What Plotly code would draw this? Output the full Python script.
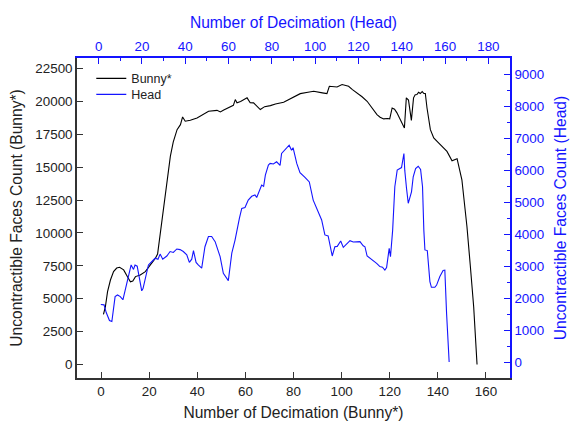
import plotly.graph_objects as go

# Bunny* : bottom x axis / left y axis
bunny_x = [1, 1.8, 2.7, 3.9, 5.2, 6.5, 7.7, 9.4, 10.8, 12.2, 13.2, 14.3, 16.3, 18.4, 20.5, 22.6, 23.5,
           24.2, 24.9, 25.8, 26.7, 28, 28.8, 30, 31.6, 33, 33.9, 35, 37.1, 39.9, 42, 44.7, 48.2, 49.6,
           51, 53, 55, 55.8, 56.5, 58, 59.3, 60.7, 62, 63.4, 66.2, 68, 70.4, 72.5, 75.9, 79, 82.8, 86,
           88.4, 92, 93.9, 94.9, 98.1, 100.2, 102.9, 104.5, 106.4, 108.5, 110.6, 112.5, 114.7, 116,
           117.5, 119, 120, 121, 122, 123, 124.5, 126.1, 126.9, 127.8, 129, 129.9, 130.6, 131.3, 132,
           132.7, 133.5, 134.2, 134.8, 135.5, 136.9, 138.3, 140, 142, 143.8, 145.9, 147, 148, 150,
           151, 152.1, 153.5, 154.9, 156.3]
bunny_y = [3800, 4390, 5530, 6420, 7060, 7330, 7390, 7190, 6730, 6290, 6350, 6680, 6800, 7060, 7570,
           8070, 8400, 9400, 10300, 11800, 13030, 14800, 15820, 16900, 17850, 18230, 18820, 18490,
           18560, 18740, 18950, 19250, 19320, 19200, 19350, 19500, 19700, 20140, 19900, 20000, 20140,
           20270, 19900, 19890, 19380, 19600, 19680, 19800, 19930, 20200, 20590, 20700, 20770, 20650,
           20590, 21150, 21100, 21280, 21150, 20900, 20650, 20350, 20010, 19550, 19000, 18800, 18670,
           18700, 18670, 19500, 19400, 19130, 18600, 17980, 20270, 20100, 18560, 20270, 20500, 20520,
           20700, 20600, 20750, 20600, 20600, 19500, 17850, 17220, 16900, 16550, 16200, 15490, 15600,
           15640, 14040, 12500, 10490, 7500, 4390, 0]

# Head : top x axis / right y axis
head_x = [1, 2.5, 3.5, 5, 6.1, 7.6, 8.7, 10, 11.2, 13, 14.5, 15, 16.1, 16.8, 17.8, 18.8, 19.9, 20.5,
          22.2, 23, 24.5, 26.1, 27.4, 28.4, 29.6, 31.5, 33, 34.5, 36.1, 37.6, 39.1, 40.7, 41.9, 43,
          43.8, 45, 46, 47.6, 49.1, 50.7, 52.2, 53.8, 56.1, 57.6, 59.9, 61.5, 63, 63.8, 65, 66.1,
          67.6, 69.1, 70.7, 72.2, 73, 75.3, 76.2, 77, 78.4, 79.2, 80.7, 82.2, 83.8, 84.5, 86.8, 88,
          89.1, 89.8, 91.5, 93, 95.3, 97.3, 99.1, 100.7, 103, 104.5, 106, 107.9, 109.1, 110.2, 111.8,
          113, 114.5, 116.1, 117.6, 120.7, 122.2, 123, 124, 126.1, 128.4, 129.9, 131.1, 132.2, 133,
          134.2, 134.8, 135.8, 136.8, 137.9, 139.9, 141, 141.4, 142.2, 143, 144.5, 145.3, 146.4,
          147.6, 148.7, 149.6, 150.2, 150.7, 151.8, 153, 153.7, 155.3, 156.1, 157.6, 159.1, 159.9,
          160.7, 161.9]
head_y = [1800, 1790, 1550, 1300, 1270, 2050, 2100, 2050, 1950, 2470, 2990, 3040, 2900, 3040, 3000,
          2570, 2230, 2300, 2780, 3040, 3140, 3250, 3220, 3380, 3220, 3320, 3460, 3430, 3540, 3520,
          3460, 3360, 3120, 3220, 3490, 3120, 3040, 2940, 3610, 3930, 3930, 3770, 3300, 2780, 2550,
          3410, 3820, 4130, 4500, 4810, 4840, 5070, 5190, 5230, 5150, 5540, 5500, 5850, 6170, 6220,
          6200, 6270, 6160, 6530, 6720, 6790, 6630, 6710, 6220, 5930, 5780, 5640, 5070, 4810, 4450,
          3980, 3950, 3320, 3610, 3620, 3790, 3590, 3700, 3800, 3760, 3770, 3640, 3610, 3320, 3220,
          3090, 2990, 2970, 2880, 2960, 3560, 3300, 4130, 5490, 6010, 6090, 6530, 6000, 5440, 4970,
          5330, 5800, 6060, 6130, 6030, 5490, 4130, 3510, 3490, 2520, 2340, 2340, 2410, 2680, 2870,
          2880, 1530, 0]

BLUE = "#1414ff"
DARK = "#333333"
FONT = "Liberation Sans, Arial, sans-serif"

fig = go.Figure()
fig.add_trace(go.Scatter(x=bunny_x, y=bunny_y, mode="lines", name="Bunny*", legend="legend",
                         line=dict(color="black", width=1.1), xaxis="x", yaxis="y"))
fig.add_trace(go.Scatter(x=head_x, y=head_y, mode="lines", name="Head", legend="legend2",
                         line=dict(color=BLUE, width=1.1), xaxis="x2", yaxis="y2"))

legend_common = dict(xanchor="left", yanchor="top", bgcolor="rgba(0,0,0,0)",
                     font=dict(size=12.5, color="#222222"), itemwidth=30)

fig.update_layout(
    width=572, height=426,
    margin=dict(l=77, r=62, t=58, b=48),
    paper_bgcolor="white", plot_bgcolor="white",
    font=dict(family=FONT, size=13.4, color="#222222"),
    showlegend=True,
    legend=dict(x=0.033, y=0.982, **legend_common),
    legend2=dict(x=0.033, y=0.932, **legend_common),
    xaxis=dict(range=[-10, 170], dtick=20, tick0=0, showgrid=False, zeroline=False,
               showline=True, linecolor=DARK, linewidth=1.5, automargin=False,
               ticks="inside", ticklen=6, tickcolor=DARK, tickwidth=1.2,
               tickfont=dict(size=13.4, color="#222222"),
               title=dict(text="Number of Decimation (Bunny*)", font=dict(size=15.6, color="#222222"), standoff=9),
               anchor="y"),
    xaxis2=dict(range=[-10, 190], dtick=20, tick0=0, showgrid=False, zeroline=False,
                showline=True, linecolor=BLUE, linewidth=1.5, side="top", overlaying="x", anchor="y",
                automargin=False,
                ticks="inside", ticklen=6, tickcolor=BLUE, tickwidth=1.2,
                minor=dict(dtick=10, tick0=0, ticks="inside", ticklen=3, tickcolor=BLUE, showgrid=False),
                tickfont=dict(size=13.4, color=BLUE),
                title=dict(text="Number of Decimation (Head)", font=dict(size=15.6, color=BLUE), standoff=6)),
    yaxis=dict(range=[-1030, 23300], dtick=2500, tick0=0, showgrid=False, zeroline=False,
               showline=True, linecolor=DARK, linewidth=1.5, automargin=False, tickformat="d",
               ticks="inside", ticklen=6, tickcolor=DARK, tickwidth=1.2,
               tickfont=dict(size=13.4, color="#222222"),
               title=dict(text="Uncontractible Faces Count (Bunny*)", font=dict(size=15.6, color="#222222"), standoff=9),
               anchor="x"),
    yaxis2=dict(range=[-500, 9520], dtick=1000, tick0=0, showgrid=False, zeroline=False,
                showline=True, linecolor=BLUE, linewidth=1.5, side="right", overlaying="y", anchor="x",
                automargin=False, tickformat="d",
                ticks="inside", ticklen=6, tickcolor=BLUE, tickwidth=1.2,
                minor=dict(dtick=500, tick0=0, ticks="inside", ticklen=3, tickcolor=BLUE, showgrid=False),
                tickfont=dict(size=13.4, color=BLUE),
                title=dict(text="Uncontractible Faces Count (Head)", font=dict(size=15.6, color=BLUE), standoff=12)),
)

fig.write_html("out.html", config={"displayModeBar": False},
               post_script="document.body.style.margin='0';document.body.style.padding='0';")
